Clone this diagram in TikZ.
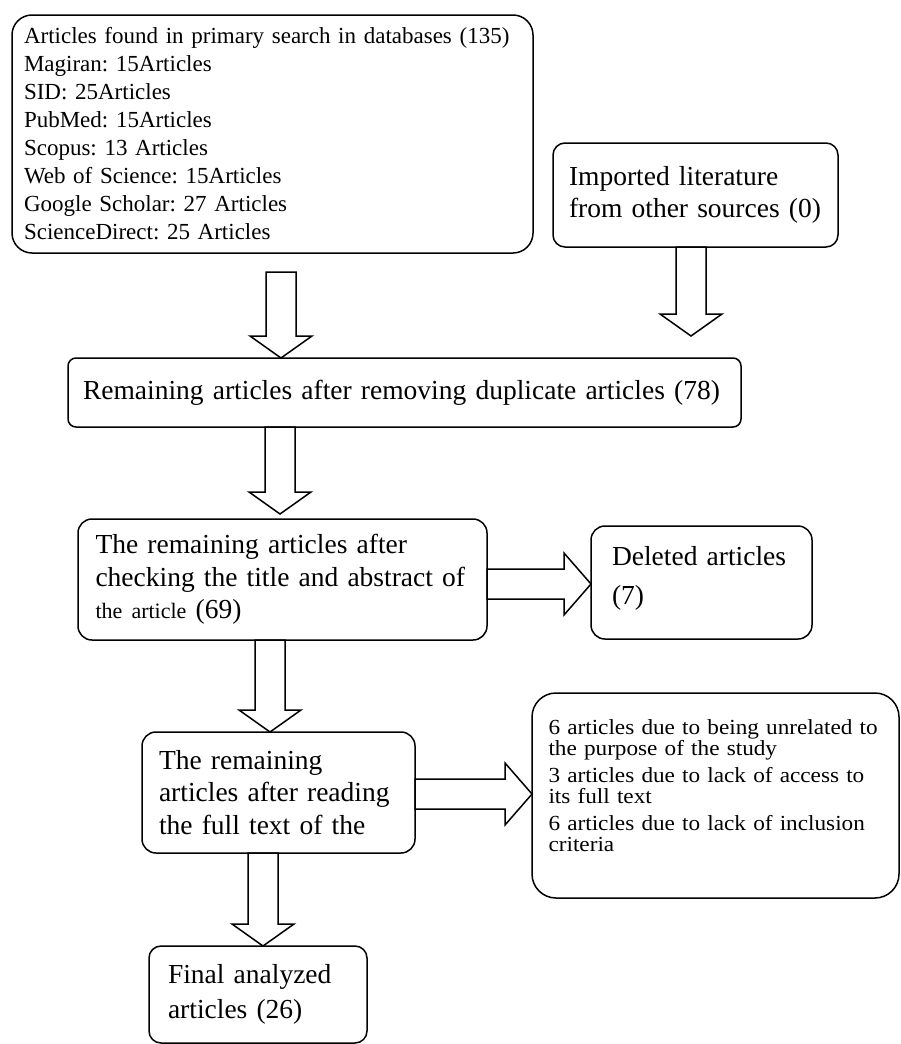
\documentclass[tikz,border=0pt]{standalone}
\usepackage{fontspec}
\setmainfont{Liberation Serif}
\newfontfamily\widerfont[FakeStretch=1.08]{Liberation Serif}
\usetikzlibrary{calc}
\lineskiplimit=-5pt
\frenchspacing

\begin{document}
\begin{tikzpicture}[
  x=1pt,y=-1pt,
  flowbox/.style={rectangle,draw,line width=1.5pt,rounded corners=14pt,align=left,inner sep=0pt,outer sep=0pt,font=\fontsize{27.5}{32.5}\selectfont},
  fatdown/.style={draw,line width=1.5pt,to path={let \p1=(\tikztostart),\p2=(\tikztotarget) in
    (\x1-15pt,\y1) -- (\x1-15pt,\y2+22pt) -- (\x1-31pt,\y2+22pt) -- (\x1,\y2)
    -- (\x1+31pt,\y2+22pt) -- (\x1+15pt,\y2+22pt) -- (\x1+15pt,\y1) -- cycle}},
  fatright/.style={draw,line width=1.5pt,to path={let \p1=(\tikztostart),\p2=(\tikztotarget) in
    (\x1,\y1+15pt) -- (\x2-27pt,\y1+15pt) -- (\x2-27pt,\y1+31pt) -- (\x2,\y1)
    -- (\x2-27pt,\y1-31pt) -- (\x2-27pt,\y1-15pt) -- (\x1,\y1-15pt) -- cycle}}
]
  \path[use as bounding box,fill=white] (0,0) rectangle (901,1044);

  \node[flowbox,rounded corners=20pt,minimum width=521pt,minimum height=238pt,text width=497pt,font=\fontsize{23}{28}\selectfont] (search) at (272.5,134)
    {Articles found in primary search in databases (135)\\Magiran: 15Articles\\SID: 25Articles\\PubMed: 15Articles\\Scopus: 13 Articles\\Web of Science: 15Articles\\Google Scholar: 27 Articles\\ScienceDirect: 25 Articles};
  \node[flowbox,rounded corners=12pt,minimum width=285pt,minimum height=104pt,text width=253pt] (other) at (695.5,195)
    {Imported literature\\from other sources (0)};
  \node[flowbox,rounded corners=8pt,minimum width=673pt,minimum height=69pt,text width=643pt] (dedup) at (404.5,392.5)
    {Remaining articles after removing duplicate articles (78)};
  \node[flowbox,minimum width=409pt,minimum height=121pt,text width=374pt] (screen) at (282.5,579.5)
    {The remaining articles after\\checking the title and abstract of\\{\fontsize{22}{32.5}\selectfont the article} (69)};
  \node[flowbox,minimum width=221pt,minimum height=113pt,text width=179pt] (deleted) at (701.5,582.5)
    {Deleted articles\\[7pt](7)\\[-18.5pt]\mbox{}};
  \node[flowbox,minimum width=273pt,minimum height=121pt,text width=239pt] (fulltext) at (278.5,792.5)
    {The remaining\\articles after reading\\the full text of the};
  \node[flowbox,rounded corners=24pt,minimum width=367pt,minimum height=205pt,text width=334pt,font=\widerfont\fontsize{21.5}{21.5}\selectfont] (excluded) at (715.5,795.5)
    {6 articles due to being unrelated to\\the purpose of the study\\[5pt]3 articles due to lack of access to\\its full text\\[5pt]6 articles due to lack of inclusion\\criteria\\[-2pt]\mbox{}};
  \node[flowbox,rounded corners=12pt,minimum width=218pt,minimum height=97pt,text width=180pt] (final) at (258,994.5)
    {Final analyzed\\[2.5pt]articles (26)};

  \draw[fatdown] ([shift={(8.5,19)}]search.south) to (dedup.north);
  \draw[fatdown] ([xshift=-4.5pt]other.south) to ([yshift=22pt]dedup.north);
  \draw[fatdown] ([xshift=212pt]dedup.south west) to ([yshift=5pt]screen.north);
  \draw[fatright] ([yshift=-4.5pt]screen.east) to (deleted.west);
  \draw[fatdown] ([xshift=-12.5pt]screen.south) to (fulltext.north);
  \draw[fatright] ([yshift=-1.5pt]fulltext.east) to (excluded.west);
  \draw[fatdown] ([xshift=-15.5pt]fulltext.south) to (final.north);
\end{tikzpicture}
\end{document}
